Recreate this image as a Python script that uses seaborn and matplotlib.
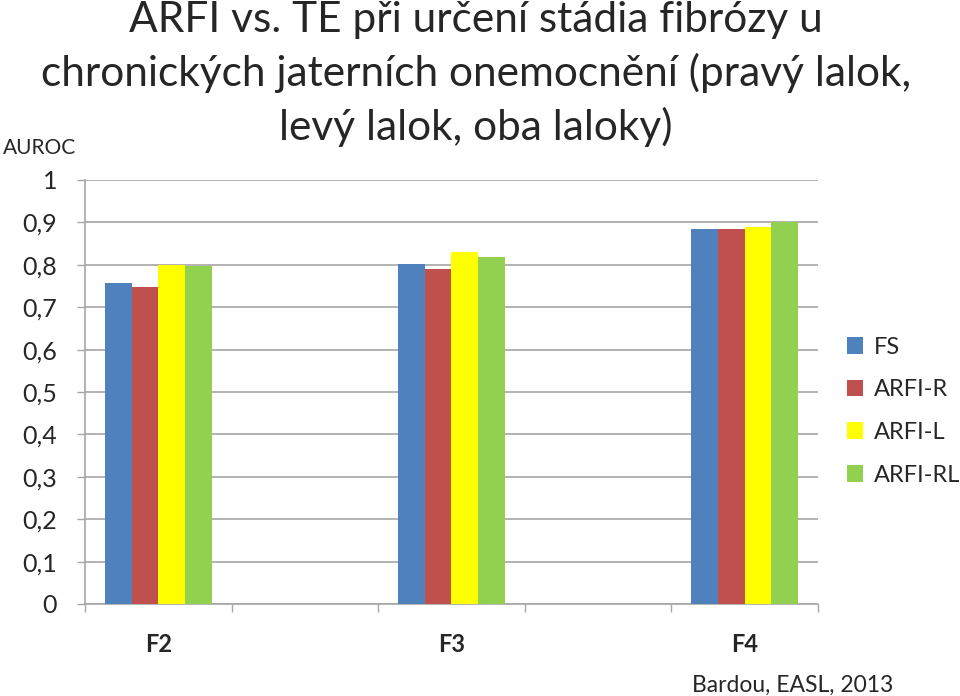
import seaborn as sns
import matplotlib.pyplot as plt
import pandas as pd
from matplotlib.patches import Patch

categories = ['F2', 'F3', 'F4']
slots = ['F2', '_gap1', 'F3', '_gap2', 'F4']
slot_labels = ['F2', '', 'F3', '', 'F4']
series = ['FS', 'ARFI-R', 'ARFI-L', 'ARFI-RL']
fs_vals = [0.756, 0.802, 0.884]
arfi_r_vals = [0.748, 0.789, 0.884]
arfi_l_vals = [0.800, 0.829, 0.890]
arfi_rl_vals = [0.798, 0.819, 0.900]
colors = ['#4F81BD', '#C0504D', '#FFFF00', '#92D050']
yticks = [0, 0.1, 0.2, 0.3, 0.4, 0.5, 0.6, 0.7, 0.8, 0.9, 1.0]
ytick_labels = ['0', '0,1', '0,2', '0,3', '0,4', '0,5', '0,6', '0,7', '0,8', '0,9', '1']
title_lines = ['ARFI vs. TE při určení stádia fibrózy u',
               'chronických jaterních onemocnění (pravý lalok,',
               'levý lalok, oba laloky)']

rows = []
for s, vals in zip(series, [fs_vals, arfi_r_vals, arfi_l_vals, arfi_rl_vals]):
    for c, v in zip(categories, vals):
        rows.append({'stage': c, 'series': s, 'auroc': v})
df = pd.DataFrame(rows)

sns.set_theme(style='white')
plt.rcParams['font.family'] = ['Lato', 'DejaVu Sans']

fig = plt.figure(figsize=(9.6, 6.96), dpi=100)
ax = fig.add_axes([0.0885, 0.1322, 0.7635, 0.6092])
sns.barplot(data=df, x='stage', y='auroc', hue='series', hue_order=series,
            order=slots, palette=colors, width=0.73, gap=0, saturation=1,
            edgecolor='none', linewidth=0, ax=ax, zorder=3)

ax.set_ylim(0, 1)
ax.set_xlim(-0.5, 4.5)
ax.set_yticks(yticks)
ax.set_yticklabels(ytick_labels, fontsize=18)
ax.yaxis.grid(True, color='#a6a6a6', linewidth=1.2, zorder=0)
ax.set_axisbelow(True)
ax.tick_params(axis='y', length=6, width=1, color='#a6a6a6', pad=14, left=True)
ax.set_xticks(range(len(slots)))
ax.set_xticklabels(slot_labels, fontsize=17, fontweight='bold')
ax.set_xticks([i - 0.5 for i in range(len(slots) + 1)], minor=True)
ax.tick_params(axis='x', which='major', length=0, pad=21)
ax.tick_params(axis='x', which='minor', length=6, width=1, color='#a6a6a6', bottom=True)
for side in ['top', 'right']:
    ax.spines[side].set_visible(False)
for side in ['left', 'bottom']:
    ax.spines[side].set_color('#a6a6a6')
    ax.spines[side].set_linewidth(1.2)
ax.set_xlabel('')
ax.set_ylabel('')

handles = [Patch(facecolor=c, edgecolor='none') for c in colors]
if ax.get_legend() is not None:
    ax.get_legend().remove()
fig.legend(handles, series, loc='upper left', bbox_to_anchor=(0.872, 0.53),
           frameon=False, fontsize=17, handlelength=0.7, handleheight=0.7,
           handletextpad=0.45, labelspacing=0.92, borderaxespad=0)

for line, base in zip(title_lines, [32, 86, 140]):
    fig.text(0.496, 1 - base / 696, line, ha='center', va='baseline', fontsize=30.5)
fig.text(0.003, 1 - 148 / 696, 'AUROC', ha='left', va='center', fontsize=15)
fig.text(893 / 960, 1 - 685 / 696, 'Bardou, EASL, 2013', ha='right', va='center', fontsize=16.5)

fig.savefig('out.png', dpi=100)
